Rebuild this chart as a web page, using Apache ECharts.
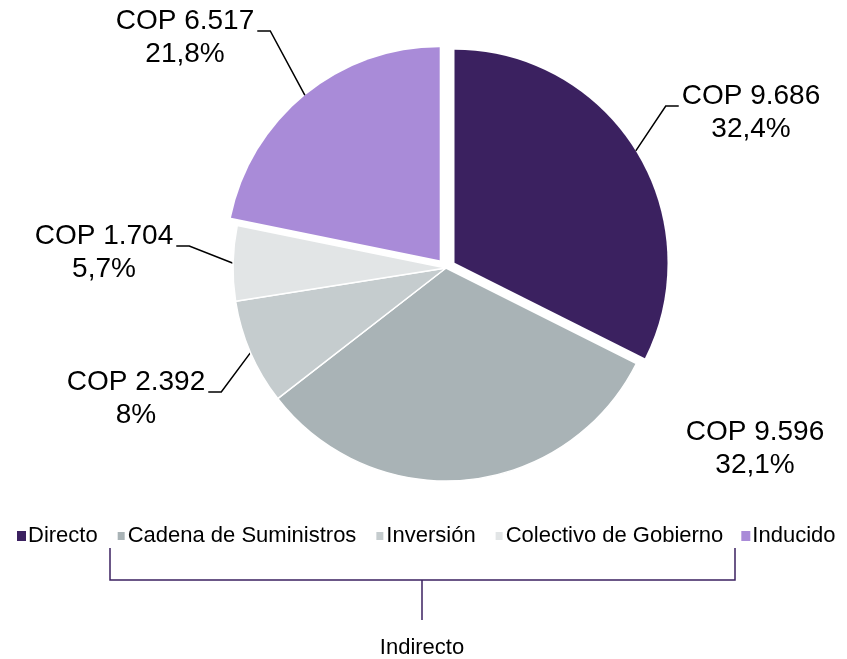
<!DOCTYPE html>
<html>
<head>
<meta charset="utf-8">
<script src="https://cdn.jsdelivr.net/npm/echarts@6/dist/echarts.min.js"></script>
<style>html,body{margin:0;padding:0;background:#fff}#c{width:847px;height:659px}</style>
</head>
<body>
<div id="c"></div>
<script>
// ---- data ----
const categories = ["Directo", "Cadena de Suministros", "Inversión", "Colectivo de Gobierno", "Inducido"];
const values = [9686, 9596, 2392, 1704, 6517];
const valueLabels = ["COP 9.686", "COP 9.596", "COP 2.392", "COP 1.704", "COP 6.517"];
const percentLabels = ["32,4%", "32,1%", "8%", "5,7%", "21,8%"];
const exploded = [true, false, false, false, true];
const groupLabel = "Indirecto";

// ---- styles / layout ----
const colors = ["#3B2160", "#A9B3B6", "#C5CCCE", "#E2E5E6", "#A98BD8"];
const labelCenters = [[751, 113], [755, 449], [136, 399], [104, 253], [185, 38]];
const showLine = [true, false, true, true, true];
const FONT = "'Liberation Sans', Arial, sans-serif";
const CX = 446, CY = 268, R = 213, OFFSET = 10;
const TRANSPARENT = 'rgba(0,0,0,0)';

// offset direction of each slice (mid-angle, clockwise from 12 o'clock)
const total = values.reduce((a, b) => a + b, 0);
let acc = 0;
const shifts = values.map(v => {
  const mid = (acc + v / 2) / total * 2 * Math.PI;
  acc += v;
  return [OFFSET * Math.sin(mid), -OFFSET * Math.cos(mid)];
});

const chart = echarts.init(document.getElementById('c'), null, {renderer: 'canvas'});

// main series: non-exploded slices + all labels
const mainData = categories.map((name, i) => ({
  name: name,
  value: values[i],
  itemStyle: exploded[i] ? {color: TRANSPARENT, borderColor: TRANSPARENT, borderWidth: 0} : {color: colors[i]},
  labelLine: {show: showLine[i]}
}));

// one extra series per exploded slice, shifted outward
const explodedSeries = [];
categories.forEach((name, k) => {
  if (!exploded[k]) return;
  explodedSeries.push({
    type: 'pie',
    silent: true,
    center: [CX + shifts[k][0], CY + shifts[k][1]],
    radius: R,
    startAngle: 90,
    clockwise: true,
    label: {show: false},
    labelLine: {show: false},
    emphasis: {disabled: true},
    itemStyle: {borderWidth: 0},
    data: categories.map((n, i) => ({
      name: n,
      value: values[i],
      itemStyle: {color: i === k ? colors[i] : TRANSPARENT}
    }))
  });
});

chart.setOption({
  animation: false,
  legend: {
    data: categories.map((n, i) => ({name: n, itemStyle: {color: colors[i]}})),
    left: 12,
    top: 520,
    icon: 'rect',
    itemWidth: 9,
    itemHeight: 10,
    itemGap: 18,
    selectedMode: false,
    textStyle: {fontFamily: FONT, fontSize: 22, color: '#000', padding: [0, 0, 0, -3]}
  },
  series: [{
    type: 'pie',
    silent: true,
    center: [CX, CY],
    radius: R,
    startAngle: 90,
    clockwise: true,
    emphasis: {disabled: true},
    itemStyle: {borderColor: '#fff', borderWidth: 1.5},
    label: {
      show: true,
      position: 'outside',
      fontFamily: FONT,
      fontSize: 28,
      lineHeight: 33,
      color: '#000',
      align: 'center',
      formatter: p => valueLabels[p.dataIndex] + '\n' + percentLabels[p.dataIndex]
    },
    labelLine: {show: true, lineStyle: {color: '#000', width: 1.5}},
    labelLayout: function (p) {
      const i = p.dataIndex;
      const c = labelCenters[i];
      const w = p.labelRect.width;
      const out = {x: c[0], y: c[1], align: 'center', verticalAlign: 'middle'};
      if (showLine[i] && p.labelLinePoints) {
        const s = exploded[i] ? shifts[i] : [0, 0];
        const p0 = [p.labelLinePoints[0][0] + s[0], p.labelLinePoints[0][1] + s[1]];
        const right = c[0] > CX;
        const ey = c[1] - 7;
        const ex = right ? c[0] - w / 2 - 3 : c[0] + w / 2 + 3;
        const bx = right ? ex - 13 : ex + 13;
        out.labelLinePoints = [p0, [bx, ey], [ex, ey]];
      }
      return out;
    },
    data: mainData
  }].concat(explodedSeries),
  graphic: [
    {type: 'polyline', shape: {points: [[110, 548], [110, 580], [735, 580], [735, 548]]},
     style: {stroke: '#3B2160', lineWidth: 1.5, fill: null}},
    {type: 'line', shape: {x1: 422, y1: 580, x2: 422, y2: 620},
     style: {stroke: '#3B2160', lineWidth: 1.5}},
    {type: 'text', x: 422, y: 648,
     style: {text: groupLabel, font: '22px ' + FONT, fill: '#000', align: 'center', verticalAlign: 'middle'}}
  ]
});
</script>
</body>
</html>
